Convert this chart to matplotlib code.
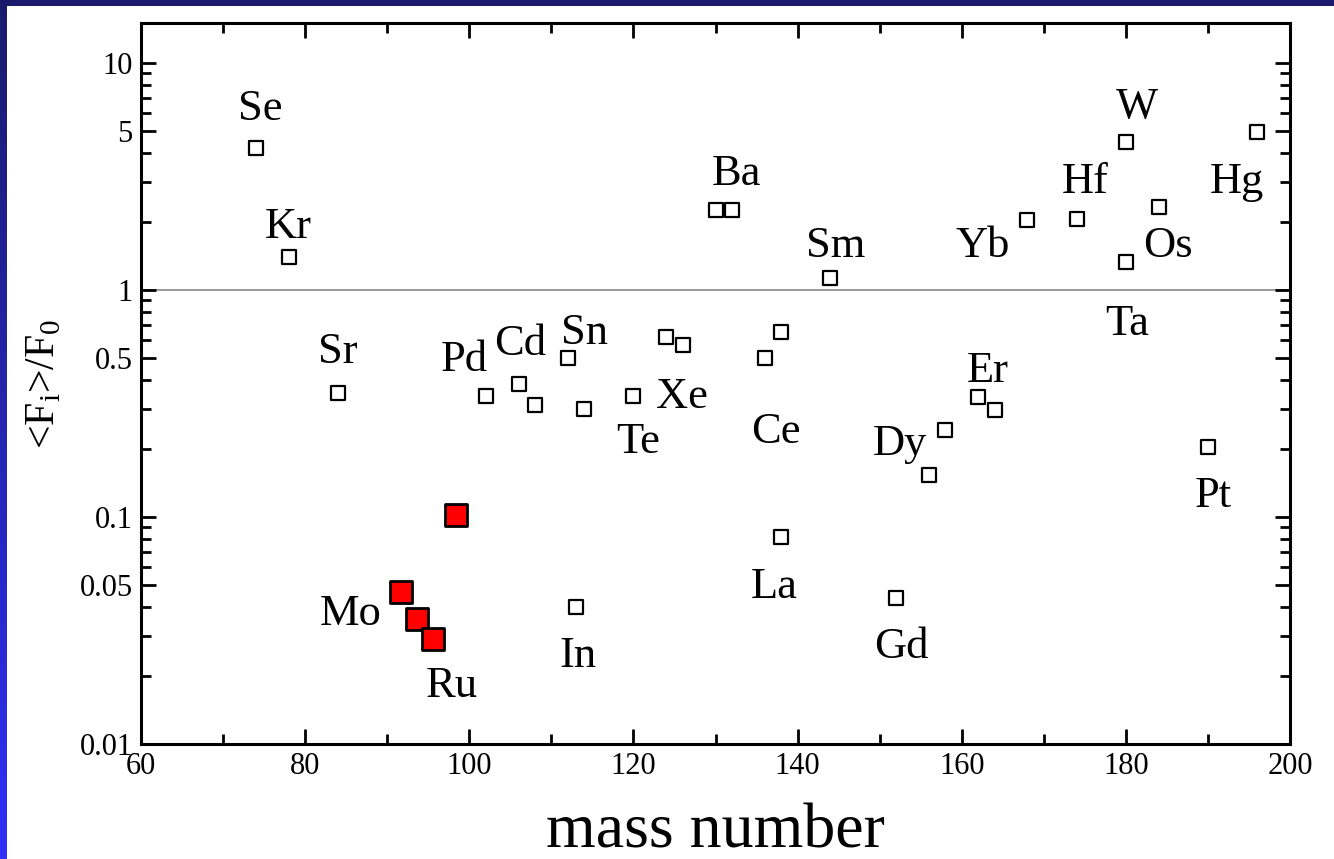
import numpy as np
import matplotlib
matplotlib.use('Agg')
import matplotlib.pyplot as plt
from matplotlib.ticker import FixedLocator, NullFormatter, MultipleLocator

plt.rcParams['font.family'] = ['Liberation Serif', 'DejaVu Serif']

# isotopes, ratio <F_i>/F_0
open_mass = [74, 78, 84, 102, 106, 108, 112, 114, 120, 124, 126, 130, 132, 136, 138,
             138, 144, 152, 156, 158, 162, 164, 168, 174, 180, 180, 184, 190, 196, 113]
open_ratio = [4.2, 1.40, 0.35, 0.34, 0.385, 0.31, 0.50, 0.30, 0.34, 0.62, 0.57, 2.25, 2.25,
              0.50, 0.65, 0.082, 1.13, 0.044, 0.153, 0.242, 0.337, 0.296, 2.03, 2.05,
              4.5, 1.33, 2.32, 0.203, 4.96, 0.040]

# Mo / Ru isotopes
red_mass = [98.4, 91.7, 93.6, 95.6]
red_ratio = [0.102, 0.0467, 0.0355, 0.029]

# element labels (x centre, baseline)
labels = ['Se', 'Kr', 'Sr', 'Pd', 'Cd', 'Sn', 'Xe', 'Te', 'Ba', 'Ce', 'Sm', 'La', 'Gd',
          'Dy', 'Er', 'Yb', 'Hf', 'W', 'Os', 'Ta', 'Hg', 'Pt', 'Mo', 'Ru', 'In']
label_x = [74.5, 78.0, 84.0, 99.4, 106.2, 114.0, 125.9, 120.6, 132.6, 137.3, 144.7, 137.1, 152.6,
           152.5, 163.2, 162.5, 175.0, 181.4, 185.1, 180.1, 193.5, 190.7, 85.5, 97.9, 113.2]
label_y = [5.61, 1.69, 0.477, 0.440, 0.517, 0.578, 0.302, 0.191, 2.90, 0.212, 1.40, 0.0440,
           0.0239, 0.1875, 0.393, 1.40, 2.675, 5.72, 1.40, 0.633, 2.675, 0.1106, 0.0334,
           0.0161, 0.0218]

fig = plt.figure(figsize=(13.34, 8.59), dpi=100)
fig.patch.set_facecolor('white')

# blue frame strips
strip = fig.add_axes([0, 0, 7 / 1334, 1])
grad = np.linspace(0, 1, 256).reshape(-1, 1)
cmap = matplotlib.colors.LinearSegmentedColormap.from_list('frame', ['#3030f8', '#1a1a6c'])
strip.imshow(grad, aspect='auto', cmap=cmap, origin='lower')
strip.axis('off')
top = fig.add_axes([0, 1 - 6 / 859, 1, 6 / 859])
top.set_facecolor('#1a1a6c')
top.set_xticks([])
top.set_yticks([])
for s in top.spines.values():
    s.set_visible(False)

ax = fig.add_axes([141 / 1334, 1 - 744 / 859, (1290 - 141) / 1334, (744 - 23) / 859])
ax.set_yscale('log')
ax.set_xlim(60, 200)
ax.set_ylim(0.01, 15)

ax.axhline(1, color='#9a9a9a', lw=1.4, zorder=1)

ax.scatter(open_mass, open_ratio, marker='s', s=95, facecolor='white',
           edgecolor='black', linewidths=1.6, zorder=3)
ax.scatter(red_mass, red_ratio, marker='s', s=260, facecolor='#ff0000',
           edgecolor='black', linewidths=2.0, zorder=4)

for t, x, y in zip(labels, label_x, label_y):
    ax.text(x, y, t, fontsize=32, ha='center', va='baseline', zorder=5)

ax.xaxis.set_major_locator(MultipleLocator(20))
ax.xaxis.set_minor_locator(MultipleLocator(10))
ax.yaxis.set_major_locator(FixedLocator([0.01, 0.05, 0.1, 0.5, 1, 5, 10]))
ax.set_yticklabels(['0.01', '0.05', '0.1', '0.5', '1', '5', '10'])
minor = [m * 10.0 ** e for e in range(-2, 2) for m in range(2, 10) if m != 5]
ax.yaxis.set_minor_locator(FixedLocator(minor))
ax.yaxis.set_minor_formatter(NullFormatter())

ax.tick_params(which='both', direction='in', top=True, right=True, width=2.0,
               labelsize=22, pad=6)
ax.tick_params(which='major', length=11)
ax.tick_params(which='minor', length=7)
for s in ax.spines.values():
    s.set_linewidth(2.2)

ax.set_xlabel('mass number', fontsize=46, labelpad=16)
ax.set_ylabel(r'<F$_\mathregular{i}$>/F$_\mathregular{0}$', fontsize=30, labelpad=12)

fig.savefig('out.png', dpi=100)
